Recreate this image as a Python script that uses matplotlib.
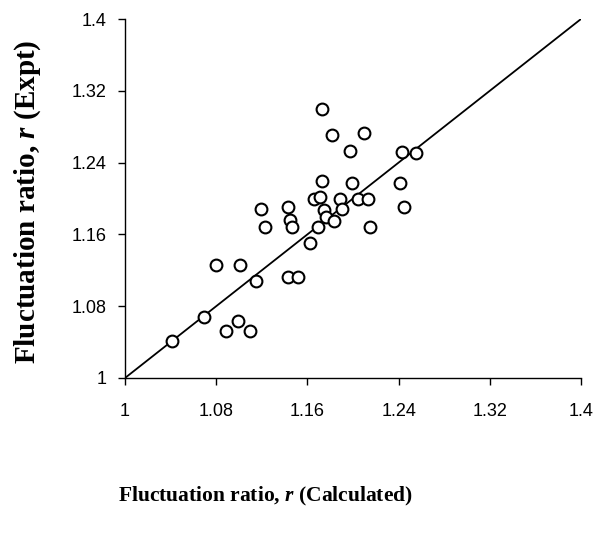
import numpy as np
import matplotlib.pyplot as plt

plt.rcParams['mathtext.fontset'] = 'custom'
plt.rcParams['mathtext.rm'] = 'Liberation Serif:bold'
plt.rcParams['mathtext.it'] = 'Liberation Serif:bold:italic'

# calculated vs experimental fluctuation ratio
r_calc = [1.1728, 1.1818, 1.2096, 1.1974, 1.2433, 1.2550, 1.1728, 1.1994, 1.2415,
          1.1661, 1.1713, 1.1886, 1.2044, 1.2132, 1.1196, 1.1433, 1.1748, 1.1904,
          1.2447, 1.1447, 1.1761, 1.1836, 1.1225, 1.1465, 1.1695, 1.2149, 1.1623,
          1.0801, 1.1012, 1.1146, 1.0696, 1.0988, 1.0886, 1.1099, 1.0412,
          1.1432, 1.1520]
r_expt = [1.2997, 1.2708, 1.2733, 1.2529, 1.2515, 1.2510, 1.2198, 1.2176, 1.2176,
          1.1998, 1.2017, 1.1998, 1.1998, 1.1998, 1.1886, 1.1905, 1.1868, 1.1886,
          1.1905, 1.1757, 1.1794, 1.1749, 1.1686, 1.1686, 1.1686, 1.1686, 1.1501,
          1.1259, 1.1259, 1.1081, 1.0680, 1.0635, 1.0527, 1.0527, 1.0416,
          1.1125, 1.1125]
ticks = [1, 1.08, 1.16, 1.24, 1.32, 1.4]
tick_labels = ['1', '1.08', '1.16', '1.24', '1.32', '1.4']

fig = plt.figure(figsize=(6.01, 5.46), dpi=100)
ax = fig.add_axes([0.208, 0.3077, 0.7587, 0.6575])

ax.plot([1, 1.4], [1, 1.4], color='black', lw=1.3, zorder=1)
ax.scatter(r_calc, r_expt, s=72, facecolors='white', edgecolors='black',
           linewidths=1.5, zorder=2, clip_on=False)

ax.set_xlim(1, 1.4)
ax.set_ylim(1, 1.4)
ax.set_xticks(ticks)
ax.set_xticklabels(tick_labels)
ax.set_yticks(ticks)
ax.set_yticklabels(tick_labels)
ax.spines['top'].set_visible(False)
ax.spines['right'].set_visible(False)
for s in ['left', 'bottom']:
    ax.spines[s].set_linewidth(1.0)
ax.tick_params(direction='out', length=5, width=1, labelsize=13)
ax.tick_params(axis='x', pad=13)
ax.tick_params(axis='y', pad=8)
for lab in ax.get_xticklabels() + ax.get_yticklabels():
    lab.set_fontfamily('Liberation Sans')

fig.text(0.441, 0.09, r'Fluctuation ratio, $r$ (Calculated)', ha='center', va='center',
         family='Liberation Serif', weight='bold', fontsize=15.5)
fig.text(0.046, 0.63, r'Fluctuation ratio, $r$ (Expt)', ha='center', va='center',
         rotation=90, family='Liberation Serif', weight='bold', fontsize=21)

fig.savefig('out.png', dpi=100)
